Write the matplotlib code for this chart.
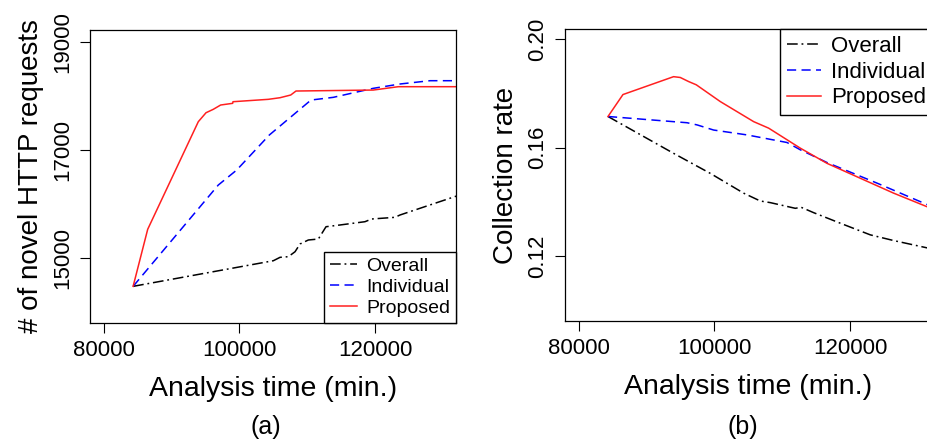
import numpy as np
import matplotlib
matplotlib.use("Agg")
import matplotlib.pyplot as plt

plt.rcParams['font.family'] = ['Liberation Sans', 'DejaVu Sans']

# (a) novel HTTP requests
a_prop_x = [84300, 86450, 93920, 95060, 96130, 97220, 98990, 99040, 104250, 105980, 107560, 108340, 119750, 123440, 132060]
a_prop_y = [14470, 15526, 17519, 17685, 17748, 17828, 17859, 17889, 17933, 17963, 18013, 18087, 18105, 18167, 18167]
a_ind_x = [84300, 96870, 99590, 104400, 110550, 113850, 119750, 123690, 128120, 132060]
a_ind_y = [14470, 16346, 16624, 17272, 17920, 17970, 18137, 18217, 18278, 18278]
a_all_x = [84300, 104990, 105980, 107210, 108200, 108930, 110160, 111640, 112770, 114830, 118520, 119510, 122950, 123690, 132060]
a_all_y = [14470, 14944, 15007, 15019, 15111, 15254, 15328, 15346, 15574, 15606, 15667, 15717, 15748, 15791, 16143]

# (b) collection rate
b_prop_x = [84280, 86490, 93960, 94950, 96180, 97310, 100860, 105780, 107990, 112670, 116610, 121520, 126440, 131560]
b_prop_y = [0.1715, 0.1796, 0.1862, 0.1859, 0.1844, 0.1832, 0.1770, 0.1696, 0.1672, 0.1598, 0.1542, 0.1487, 0.1432, 0.1380]
b_ind_x = [84280, 95940, 97420, 99870, 104800, 110700, 112670, 116610, 123990, 131560]
b_ind_y = [0.1715, 0.1692, 0.1684, 0.1665, 0.1647, 0.1619, 0.1592, 0.1545, 0.1469, 0.1388]
b_all_x = [84280, 93960, 99380, 104300, 106760, 108240, 111930, 112770, 114630, 118570, 123000, 126440, 131560]
b_all_y = [0.1715, 0.1579, 0.1505, 0.1432, 0.1403, 0.1397, 0.1376, 0.1380, 0.1360, 0.1321, 0.1278, 0.1257, 0.1229]

x_ticks = [80000, 100000, 120000]
a_yticks = [15000, 17000, 19000]
b_yticks = [0.12, 0.16, 0.20]
labels = ['Overall', 'Individual', 'Proposed']

fig = plt.figure(figsize=(9.28, 4.45), dpi=100)
ax1 = fig.add_axes([90/928, 122/445, 366/928, 293/445])
ax2 = fig.add_axes([565/928, 124/445, 366/928, 292/445])

sty_all = dict(color='black', lw=1.1, linestyle=(0, (7, 2.5, 1.2, 2.5)))
sty_ind = dict(color='blue', lw=1.1, linestyle=(0, (6, 3.5)))
sty_prop = dict(color='#ff2020', lw=1.1, linestyle='-')

ax1.plot(a_all_x, a_all_y, label=labels[0], **sty_all)
ax1.plot(a_ind_x, a_ind_y, label=labels[1], **sty_ind)
ax1.plot(a_prop_x, a_prop_y, label=labels[2], **sty_prop)
ax1.set_ylim(13791, 19217)
ax1.set_yticks(a_yticks)
ax1.set_yticklabels([str(v) for v in a_yticks])
ax1.set_ylabel('# of novel HTTP requests', fontsize=20, labelpad=6)

ax2.plot(b_all_x, b_all_y, label=labels[0], **sty_all)
ax2.plot(b_ind_x, b_ind_y, label=labels[1], **sty_ind)
ax2.plot(b_prop_x, b_prop_y, label=labels[2], **sty_prop)
ax2.set_ylim(0.096, 0.2038)
ax2.set_yticks(b_yticks)
ax2.set_yticklabels(['%.2f' % v for v in b_yticks])
ax2.set_ylabel('Collection rate', fontsize=20, labelpad=6)

for ax in (ax1, ax2):
    ax.set_xlim(77934, 131956)
    ax.set_xticks(x_ticks)
    ax.set_xticklabels([str(v) for v in x_ticks])
    ax.tick_params(axis='both', direction='out', length=7, width=0.8, labelsize=16, pad=5)
    for lab in ax.get_yticklabels():
        lab.set_rotation(90)
        lab.set_va('center')
    for s in ax.spines.values():
        s.set_linewidth(0.9)
    ax.set_xlabel('Analysis time (min.)', fontsize=20.5, labelpad=11)

leg_kw = dict(frameon=True, fancybox=False, edgecolor='black', framealpha=1,
              borderaxespad=0, handletextpad=0.45, borderpad=0.3)
ax1.legend(loc='lower right', bbox_to_anchor=(1.0, 0.0), fontsize=14, handlelength=1.4,
           labelspacing=0.18, **leg_kw)
ax2.legend(loc='upper left', bbox_to_anchor=(215/366, 1.0), fontsize=16, handlelength=1.55,
           labelspacing=0.22, **leg_kw)

fig.text(266/928, 1 - 427/445, '(a)', fontsize=18, ha='center', va='center')
fig.text(743/928, 1 - 427/445, '(b)', fontsize=18, ha='center', va='center')

fig.savefig('out.png', dpi=100)
